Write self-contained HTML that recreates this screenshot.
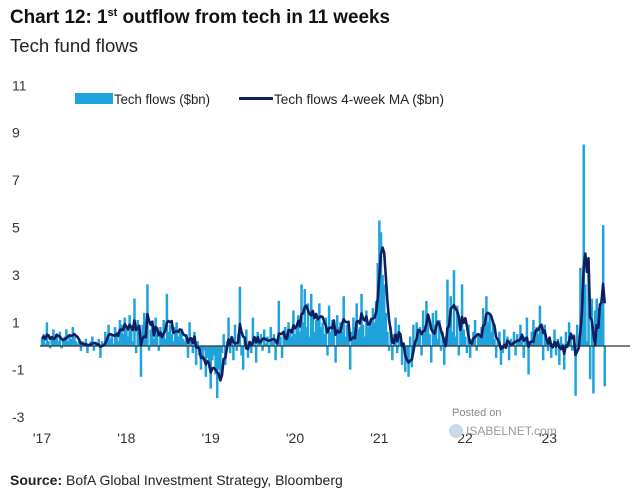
<!DOCTYPE html>
<html><head><meta charset="utf-8"><style>
html,body{margin:0;padding:0;background:#fff;width:640px;height:493px;overflow:hidden}
svg{display:block;font-family:"Liberation Sans",sans-serif}
</style></head><body>
<svg id="chart" width="640" height="493" viewBox="0 0 640 493">
<text x="10" y="23" font-size="19" font-weight="bold" fill="#111" textLength="380" lengthAdjust="spacingAndGlyphs">Chart 12: 1<tspan font-size="11" dy="-7">st</tspan><tspan dy="7"> outflow from tech in 11 weeks</tspan></text>
<text x="10" y="52" font-size="18" fill="#222" textLength="128" lengthAdjust="spacingAndGlyphs">Tech fund flows</text>
<g id="yaxis"></g>
<g id="xaxis"></g>
<g id="bars"></g>
<line id="zero" stroke="#333" stroke-width="1.2"></line>
<path id="ma" fill="none" stroke="#0d1f5f" stroke-width="2.6" stroke-linejoin="round"></path>
<g>
<rect x="75" y="93" width="38" height="11" fill="#1ea3dd"></rect>
<text x="114" y="104" font-size="13.5" fill="#222" textLength="96" lengthAdjust="spacingAndGlyphs">Tech flows ($bn)</text>
<line x1="239" y1="98.5" x2="273" y2="98.5" stroke="#0d1f5f" stroke-width="3"></line>
<text x="274" y="104" font-size="13.5" fill="#222" textLength="170" lengthAdjust="spacingAndGlyphs">Tech flows 4-week MA ($bn)</text>
</g>
<text x="452" y="416" font-size="11" fill="#888">Posted on</text>
<circle cx="456" cy="431" r="7" fill="#c9d8e6"></circle>
<text x="466" y="435" font-size="12" fill="#999">ISABELNET.com</text>
<text x="10" y="485" font-size="14" fill="#222"><tspan font-weight="bold">Source:</tspan>  BofA Global Investment Strategy, Bloomberg</text>
</svg>
<script>
const yTicks=[11,9,7,5,3,1,-1,-3];
const yearLabels=["'17","'18","'19","'20","'21","'22","'23"];
const flows2017=[0.3,0.5,0.1,1.0,0.2,-0.1,0.4,0.7,0.3,0.5,0.2,0.6,-0.1,0.3,0.4,0.7,0.2,0.5,0.3,0.8,0.4,0.2,0.1,0.3,-0.2,0.2,0.0,0.3,-0.3,0.1,0.2,0.4,-0.2,0.1,0.0,0.3,-0.5,0.2,0.1,0.6,0.2,0.9,0.3,0.5,0.1,0.8,0.6,0.2,1.1,0.9,0.5,1.2];
const flows2018=[0.7,0.4,1.3,0.8,0.2,2.0,-0.3,1.1,0.6,-1.3,0.9,1.4,0.5,2.6,-0.2,0.7,1.0,0.3,1.2,0.5,-0.2,0.8,0.4,1.1,0.3,2.2,0.6,0.9,0.5,0.2,0.8,1.0,0.4,0.6,0.7,0.3,0.2,0.5,-0.5,1.0,0.3,-0.3,0.6,-0.8,0.2,-0.4,-1.0,-0.6,-0.2,-1.3,-0.5,-0.9];
const flows2019=[-1.8,-0.6,-0.4,-1.2,-2.2,-1.0,-1.4,-0.3,0.5,-0.8,0.2,1.2,-0.3,0.4,-0.6,0.9,-0.2,0.5,2.5,-0.4,-1.0,0.3,0.7,-0.5,0.2,-0.3,1.2,0.4,-0.7,0.6,0.3,0.5,-0.2,0.7,0.1,0.4,-0.3,0.8,0.2,0.5,-0.6,0.3,1.9,0.4,-0.5,0.6,0.8,0.3,1.0,0.6,0.4,1.5];
const flows2020=[0.5,0.9,1.3,0.6,2.6,1.0,2.4,0.8,1.8,0.4,2.2,1.5,0.6,1.1,1.3,1.8,0.8,1.0,0.5,1.2,-0.4,1.7,0.6,1.1,0.9,-0.7,1.3,0.8,1.0,0.6,2.1,0.4,0.9,0.7,-1.0,0.6,1.2,0.5,1.8,0.7,0.8,2.2,0.9,0.4,1.5,0.8,1.0,1.2,1.6,1.0,1.9,3.5];
const flows2021=[5.3,4.8,3.0,2.6,1.4,0.6,-0.2,0.8,-0.6,0.5,1.2,-0.3,0.9,0.2,-0.8,0.1,-1.1,-0.5,-1.3,0.4,-0.9,0.9,0.2,1.0,0.6,0.8,-0.4,1.5,0.7,1.9,1.2,0.5,-0.7,1.4,0.9,1.5,0.3,1.1,-0.2,0.6,-0.8,0.4,2.8,1.0,2.1,0.6,3.2,0.4,1.7,-0.4,1.0,2.6];
const flows2022=[0.7,0.4,-0.3,0.9,-0.5,0.3,0.6,1.1,-0.2,0.5,0.4,0.8,1.6,0.9,2.1,1.0,1.4,0.6,1.1,0.3,-0.5,0.2,0.6,-0.8,-0.3,0.7,0.1,0.4,-0.6,0.3,0.2,0.6,-0.4,0.5,0.2,0.9,0.3,-0.5,0.4,1.2,-1.2,0.2,0.6,1.1,0.3,0.8,0.5,1.7,0.6,-0.6,0.9,0.3];
const flows2023=[-0.2,0.4,-0.5,0.1,0.7,-0.4,0.3,-0.8,0.4,0.1,-1.0,0.6,0.2,1.0,0.3,-0.2,0.5,-2.1,0.9,0.4,3.3,1.2,8.5,2.6,0.2,3.5,-1.4,2.0,-2.0,1.5,2.0,1.6,1.8,2.0,5.1,-1.7];

const flows=[].concat(flows2017,flows2018,flows2019,flows2020,flows2021,flows2022,flows2023);
const NS="http://www.w3.org/2000/svg";
const x0=42, pxYear=84.33;
function xw(i){return x0+i*pxYear/52;}
function y(v){return 346-v*23.7;}
const ya=document.getElementById('yaxis');
yTicks.forEach(t=>{
  const el=document.createElementNS(NS,'text');
  el.setAttribute('x',12);el.setAttribute('y',y(t)+5);
  el.setAttribute('font-size','14');el.setAttribute('fill','#333');
  
  
  el.textContent=t;ya.appendChild(el);
});
const xa=document.getElementById('xaxis');
yearLabels.forEach((l,k)=>{
  const el=document.createElementNS(NS,'text');
  el.setAttribute('x',x0+k*pxYear);el.setAttribute('y',443);
  el.setAttribute('text-anchor','middle');
  el.setAttribute('font-size','14');el.setAttribute('fill','#333');
  
  
  el.textContent=l;xa.appendChild(el);
});
const bg=document.getElementById('bars');
flows.forEach((v,i)=>{
  const r=document.createElementNS(NS,'rect');
  const yy=y(Math.max(v,0)), h=Math.abs(y(v)-y(0));
  r.setAttribute('x',xw(i)-1.2);r.setAttribute('y',yy);
  r.setAttribute('width',2.5);r.setAttribute('height',Math.max(h,0.1));
  r.setAttribute('fill','#1ea3dd');
  
  
  bg.appendChild(r);
});
const z=document.getElementById('zero');
z.setAttribute('x1',40);z.setAttribute('x2',630);z.setAttribute('y1',y(0));z.setAttribute('y2',y(0));
let d='';
flows.forEach((v,i)=>{
  const s=flows.slice(Math.max(0,i-3),i+1);
  const m=s.reduce((a,b)=>a+b,0)/s.length;
  d+=(i?'L':'M')+xw(i).toFixed(1)+' '+y(m).toFixed(1);
});
document.getElementById('ma').setAttribute('d',d);
</script>
</body></html>
